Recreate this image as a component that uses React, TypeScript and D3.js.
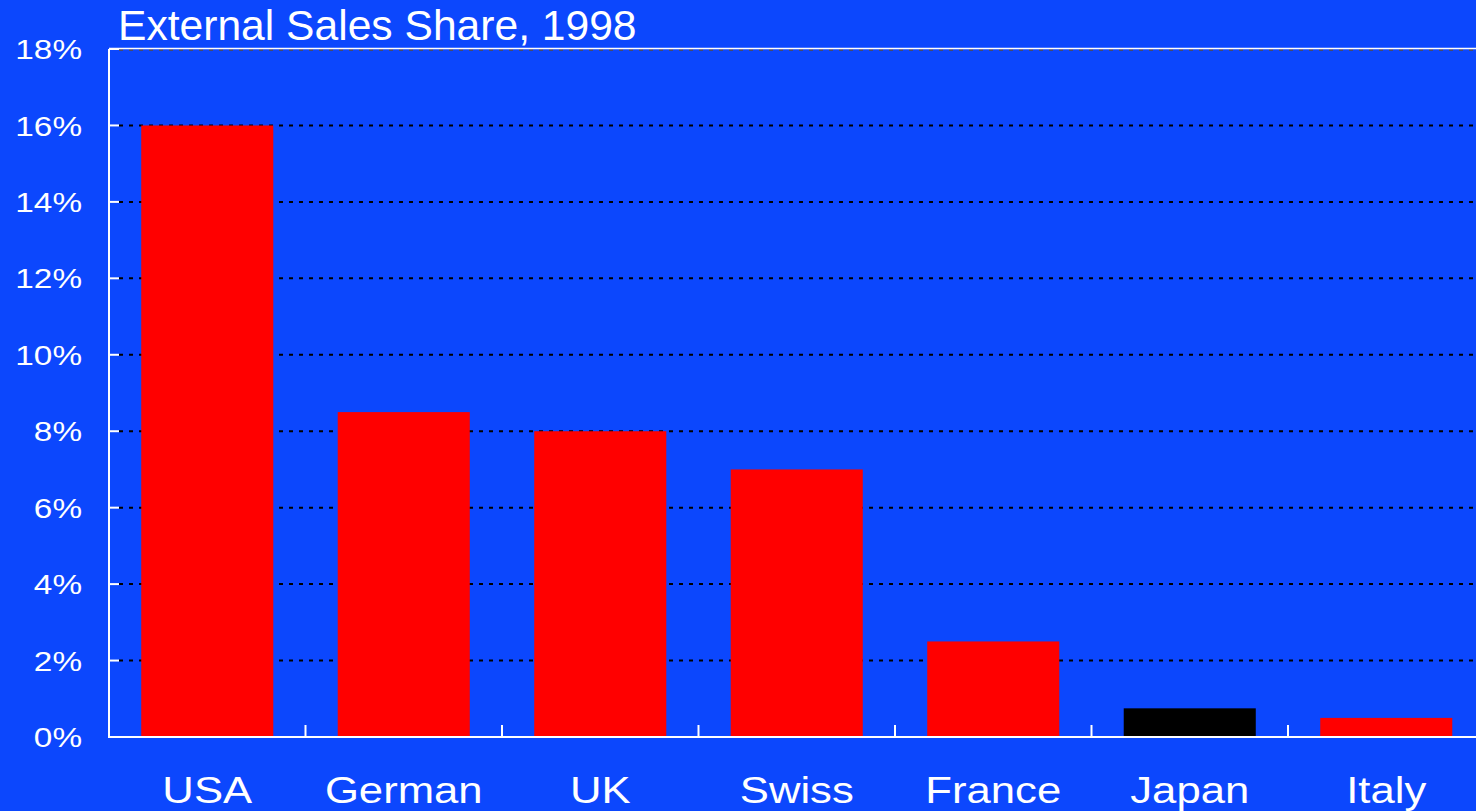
import { useEffect, useRef } from 'react';
import * as d3 from 'd3';

// chart data
const countries = ['USA', 'German', 'UK', 'Swiss', 'France', 'Japan', 'Italy'];
const shares = [16, 8.5, 8, 7, 2.5, 0.75, 0.5];
const barColors = ['#ff0000', '#ff0000', '#ff0000', '#ff0000', '#ff0000', '#000000', '#ff0000'];
const yTicks = [0, 2, 4, 6, 8, 10, 12, 14, 16, 18];
const title = 'External Sales Share, 1998';

const W = 1476;
const H = 811;
const BG = '#0c47fd';
const FONT = '"Liberation Sans", Arial, sans-serif';

export default function App() {
  const svgRef = useRef<SVGSVGElement>(null);

  useEffect(() => {
    document.body.style.margin = '0';
    if (!svgRef.current) return;
    const svg = d3.select(svgRef.current);
    svg.selectAll('*').remove();

    const left = 109;
    const step = 196.5;
    const top = 49;
    const bottom = 737;

    const x = d3
      .scaleBand<string>()
      .domain(countries)
      .range([left, left + step * countries.length]);
    const y = d3.scaleLinear().domain([0, 18]).range([bottom, top]);

    svg.append('rect').attr('width', W).attr('height', H).attr('fill', BG);

    // gridlines
    svg
      .append('g')
      .selectAll('line')
      .data(yTicks.filter((t) => t > 0))
      .join('line')
      .attr('x1', left + 10)
      .attr('x2', W)
      .attr('y1', (d) => y(d) + (d === 18 ? 1 : 0))
      .attr('y2', (d) => y(d) + (d === 18 ? 1 : 0))
      .attr('stroke', (d) => (d === 18 ? '#4a4a6a' : '#000'))
      .attr('stroke-width', 2)
      .attr('stroke-dasharray', '4,6');

    // top border
    svg
      .append('line')
      .attr('x1', left)
      .attr('x2', W)
      .attr('y1', top - 0.5)
      .attr('y2', top - 0.5)
      .attr('stroke', '#fff')
      .attr('stroke-width', 1.5);

    // bars
    const barW = x.bandwidth() * 0.672;
    svg
      .append('g')
      .selectAll('rect')
      .data(countries)
      .join('rect')
      .attr('x', (d) => (x(d) ?? 0) + (x.bandwidth() - barW) / 2)
      .attr('y', (_d, i) => y(shares[i]))
      .attr('width', barW)
      .attr('height', (_d, i) => y(0) - y(shares[i]))
      .attr('fill', (_d, i) => barColors[i]);

    // y axis line and ticks
    svg
      .append('line')
      .attr('x1', left)
      .attr('x2', left)
      .attr('y1', top)
      .attr('y2', bottom)
      .attr('stroke', '#fff')
      .attr('stroke-width', 2);
    svg
      .append('g')
      .selectAll('line')
      .data(yTicks)
      .join('line')
      .attr('x1', left)
      .attr('x2', left + 10)
      .attr('y1', (d) => y(d))
      .attr('y2', (d) => y(d))
      .attr('stroke', '#fff')
      .attr('stroke-width', 2);

    // y labels (wide type)
    svg
      .append('g')
      .selectAll('text')
      .data(yTicks)
      .join('text')
      .attr('transform', (d) => `translate(82,${y(d)}) scale(1.19,1)`)
      .attr('text-anchor', 'end')
      .attr('dy', '0.36em')
      .attr('fill', '#fff')
      .style('font-family', FONT)
      .style('font-size', '28px')
      .text((d) => `${d}%`);

    // x axis line and ticks
    svg
      .append('line')
      .attr('x1', left - 1)
      .attr('x2', W)
      .attr('y1', bottom)
      .attr('y2', bottom)
      .attr('stroke', '#fff')
      .attr('stroke-width', 2);
    svg
      .append('g')
      .selectAll('line')
      .data(countries)
      .join('line')
      .attr('x1', (d) => x(d) ?? 0)
      .attr('x2', (d) => x(d) ?? 0)
      .attr('y1', bottom)
      .attr('y2', bottom - 12)
      .attr('stroke', '#fff')
      .attr('stroke-width', 2);

    // x labels
    svg
      .append('g')
      .selectAll('text')
      .data(countries)
      .join('text')
      .attr('transform', (d) => `translate(${(x(d) ?? 0) + x.bandwidth() / 2},803) scale(1.18,1)`)
      .attr('text-anchor', 'middle')
      .attr('fill', '#fff')
      .style('font-family', FONT)
      .style('font-size', '37px')
      .text((d) => d);

    // title
    svg
      .append('text')
      .attr('x', 118)
      .attr('y', 40)
      .attr('fill', '#fff')
      .style('font-family', FONT)
      .style('font-size', '42.6px')
      .text(title);
  }, []);

  return <svg ref={svgRef} width={W} height={H} style={{ display: 'block' }} />;
}
